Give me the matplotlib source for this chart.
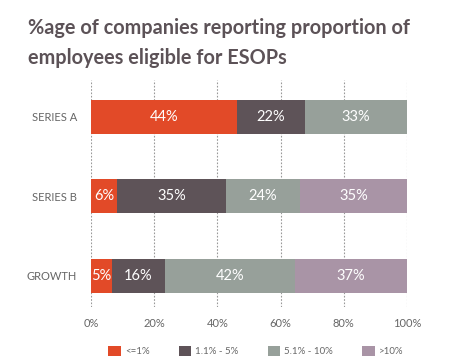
import numpy as np
import matplotlib
matplotlib.use("Agg")
from matplotlib import pyplot as plt
from matplotlib.patches import Patch

plt.rcParams['font.family'] = ['Lato', 'DejaVu Sans']

categories = ['SERIES A', 'SERIES B', 'GROWTH']
series_names = ['<=1%', '1.1% - 5%', '5.1% - 10%', '>10%']
# segment widths as drawn
le1 = [46.2, 8.2, 6.6]
p1_5 = [21.5, 34.5, 16.8]
p5_10 = [32.3, 23.4, 41.2]
gt10 = [0.0, 33.9, 35.4]
# printed labels
lab_le1 = ['44%', '6%', '5%']
lab_1_5 = ['22%', '35%', '16%']
lab_5_10 = ['33%', '24%', '42%']
lab_gt10 = ['', '35%', '37%']
ticks = [0, 20, 40, 60, 80, 100]

colors = ['#E24A28', '#5E5358', '#97A09A', '#A994A6']

fig = plt.figure(figsize=(4.69, 3.63), dpi=100)
ax = fig.add_axes([0.194, 0.154, 0.674, 0.626])

y = np.arange(len(categories))
left = np.zeros(len(categories))
for vals, labs, c in zip([le1, p1_5, p5_10, gt10],
                         [lab_le1, lab_1_5, lab_5_10, lab_gt10], colors):
    vals = np.array(vals)
    ax.barh(y, vals, left=left, height=0.43, color=c, zorder=2)
    for i in range(len(y)):
        if labs[i]:
            ax.text(left[i] + vals[i] / 2, y[i], labs[i], color='white',
                    ha='center', va='center', fontsize=10.5, zorder=3)
    left = left + vals

ax.set_xlim(0, 100)
ax.set_ylim(2.397, -0.467)
ax.set_yticks(y)
ax.set_yticklabels(categories, fontsize=8, color='#666666')
ax.set_xticks(ticks)
ax.set_xticklabels([f'{t}%' for t in ticks], fontsize=8, color='#666666')
ax.tick_params(length=0, pad=8)
ax.tick_params(axis='y', pad=10)
for t in ticks:
    ax.axvline(t, color='#999999', linestyle=(0, (1.5, 1.5)), linewidth=0.8, zorder=1)
for s in ax.spines.values():
    s.set_visible(False)

fig.text(0.06, 0.882, '%age of companies reporting proportion of\nemployees eligible for ESOPs',
         fontsize=14.3, fontweight='bold', color='#5C5257', linespacing=1.65, va='center')

handles = [Patch(facecolor=c) for c in colors]
fig.legend(handles, series_names, loc='center', bbox_to_anchor=(0.545, 0.033), ncol=4,
           frameon=False, fontsize=7, labelcolor='#666666', handlelength=1.3,
           handleheight=1.3, handletextpad=0.4, columnspacing=3.0)

fig.savefig('out.png', dpi=100)
